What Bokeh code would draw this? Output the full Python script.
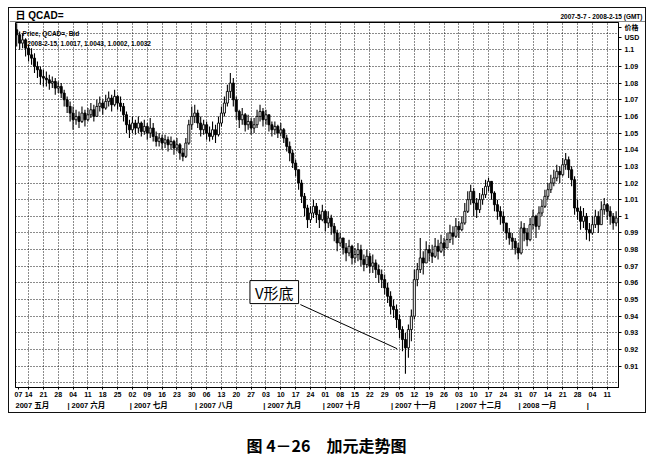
from bokeh.plotting import figure
from bokeh.models import Range1d, FixedTicker, Label, Div, ColumnDataSource, LinearAxis, Spacer
from bokeh.core.properties import value
from bokeh.layouts import column, row
from bokeh.embed import file_html
from bokeh.resources import INLINE

# ---------------- data (daily USD/CAD bars) ----------------
first_open = 1.114
close = [
    1.112,
    1.109, 1.104, 1.106, 1.101, 1.097,
    1.095, 1.090, 1.088, 1.084, 1.083,
    1.082, 1.080, 1.081, 1.077, 1.078,
    1.074, 1.070, 1.066, 1.062, 1.058,
    1.060, 1.057, 1.062, 1.058, 1.061,
    1.064, 1.060, 1.066, 1.068, 1.065,
    1.069, 1.071, 1.067, 1.072, 1.068,
    1.066, 1.061, 1.055, 1.052, 1.056,
    1.053, 1.056, 1.051, 1.054, 1.050,
    1.053, 1.048, 1.045, 1.047, 1.044,
    1.046, 1.043, 1.045, 1.041, 1.043,
    1.038, 1.036, 1.044, 1.055, 1.060,
    1.062, 1.056, 1.052, 1.055, 1.050,
    1.048, 1.052, 1.049, 1.056, 1.062,
    1.068, 1.075, 1.080, 1.070, 1.063,
    1.058, 1.061, 1.055, 1.057, 1.053,
    1.055, 1.060, 1.063, 1.058, 1.061,
    1.055, 1.052, 1.054, 1.050, 1.052,
    1.047, 1.042, 1.038, 1.032, 1.028,
    1.020, 1.012, 1.005, 0.998, 1.002,
    1.006, 1.001, 0.998, 1.003, 0.996,
    0.999, 0.994, 0.990, 0.984, 0.987,
    0.981, 0.978, 0.982, 0.975, 0.977,
    0.980, 0.974, 0.971, 0.976, 0.970,
    0.972, 0.968, 0.965, 0.962, 0.957,
    0.952, 0.946, 0.944, 0.938, 0.932,
    0.926, 0.921, 0.932, 0.940, 0.962,
    0.968, 0.975, 0.972, 0.980, 0.978,
    0.976, 0.982, 0.979, 0.984, 0.981,
    0.986, 0.990, 0.988, 0.994, 0.992,
    0.996, 1.003, 1.010, 1.015, 1.008,
    1.004, 1.010, 1.013, 1.018, 1.021,
    1.014, 1.007, 1.003, 1.000, 0.996,
    0.990, 0.987, 0.985, 0.981, 0.978,
    0.993, 0.990, 0.986, 0.995, 1.000,
    0.994, 1.002, 1.006, 1.012, 1.016,
    1.020, 1.023, 1.027, 1.025, 1.031,
    1.034, 1.028, 1.022, 1.005, 1.003,
    0.997, 1.000, 0.992, 0.990, 0.995,
    1.000, 0.995, 1.004, 1.007, 1.003,
    1.000, 0.996, 0.999,
]
high = [
    1.116,
    1.116, 1.111, 1.110, 1.107, 1.103,
    1.101, 1.098, 1.093, 1.090, 1.088,
    1.087, 1.085, 1.084, 1.083, 1.081,
    1.080, 1.076, 1.072, 1.069, 1.066,
    1.064, 1.063, 1.066, 1.064, 1.065,
    1.068, 1.067, 1.070, 1.072, 1.070,
    1.073, 1.075, 1.073, 1.076, 1.073,
    1.072, 1.068, 1.063, 1.058, 1.060,
    1.058, 1.060, 1.057, 1.058, 1.056,
    1.059, 1.056, 1.051, 1.050, 1.049,
    1.049, 1.048, 1.048, 1.046, 1.047,
    1.044, 1.041, 1.047, 1.058, 1.066,
    1.067, 1.064, 1.060, 1.058, 1.057,
    1.054, 1.057, 1.055, 1.060, 1.066,
    1.072, 1.079, 1.086, 1.083, 1.072,
    1.064, 1.065, 1.062, 1.061, 1.059,
    1.059, 1.064, 1.067, 1.065, 1.064,
    1.059, 1.057, 1.057, 1.055, 1.056,
    1.053, 1.049, 1.045, 1.040, 1.034,
    1.028, 1.022, 1.014, 1.007, 1.006,
    1.010, 1.008, 1.004, 1.007, 1.004,
    1.003, 1.001, 0.996, 0.992, 0.990,
    0.987, 0.984, 0.986, 0.983, 0.981,
    0.984, 0.983, 0.977, 0.980, 0.978,
    0.977, 0.974, 0.971, 0.968, 0.965,
    0.960, 0.955, 0.950, 0.947, 0.941,
    0.934, 0.930, 0.935, 0.944, 0.968,
    0.972, 0.987, 0.979, 0.985, 0.983,
    0.983, 0.987, 0.986, 0.989, 0.987,
    0.990, 0.995, 0.994, 0.999, 0.997,
    1.000, 1.008, 1.015, 1.019, 1.017,
    1.011, 1.014, 1.017, 1.022, 1.023,
    1.020, 1.015, 1.010, 1.006, 1.003,
    0.995, 0.993, 0.990, 0.987, 0.984,
    0.997, 0.996, 0.993, 0.999, 1.004,
    1.001, 1.006, 1.010, 1.016, 1.020,
    1.025, 1.028, 1.031, 1.030, 1.035,
    1.038, 1.036, 1.030, 1.024, 1.010,
    1.006, 1.005, 1.002, 0.996, 1.000,
    1.004, 1.003, 1.009, 1.011, 1.008,
    1.006, 1.002, 1.003,
]
low = [
    1.107,
    1.102, 1.100, 1.101, 1.096, 1.093,
    1.091, 1.086, 1.083, 1.079, 1.078,
    1.078, 1.076, 1.077, 1.073, 1.074,
    1.071, 1.066, 1.062, 1.057, 1.052,
    1.055, 1.053, 1.056, 1.054, 1.057,
    1.059, 1.057, 1.060, 1.063, 1.061,
    1.064, 1.066, 1.063, 1.066, 1.064,
    1.063, 1.057, 1.050, 1.047, 1.050,
    1.049, 1.050, 1.048, 1.049, 1.046,
    1.047, 1.045, 1.042, 1.042, 1.040,
    1.041, 1.039, 1.040, 1.037, 1.039,
    1.034, 1.033, 1.035, 1.043, 1.052,
    1.056, 1.053, 1.048, 1.049, 1.046,
    1.045, 1.046, 1.044, 1.048, 1.054,
    1.060, 1.066, 1.071, 1.066, 1.058,
    1.053, 1.055, 1.051, 1.052, 1.049,
    1.050, 1.053, 1.057, 1.054, 1.055,
    1.051, 1.048, 1.049, 1.047, 1.048,
    1.044, 1.039, 1.033, 1.029, 1.024,
    1.016, 1.008, 1.000, 0.993, 0.996,
    0.999, 0.996, 0.993, 0.997, 0.991,
    0.993, 0.989, 0.985, 0.979, 0.982,
    0.977, 0.973, 0.976, 0.971, 0.972,
    0.973, 0.970, 0.967, 0.969, 0.966,
    0.966, 0.963, 0.960, 0.957, 0.953,
    0.948, 0.941, 0.939, 0.933, 0.927,
    0.919, 0.9055, 0.915, 0.925, 0.938,
    0.958, 0.966, 0.965, 0.972, 0.973,
    0.972, 0.975, 0.974, 0.978, 0.976,
    0.981, 0.984, 0.983, 0.987, 0.987,
    0.991, 0.995, 1.002, 1.007, 1.000,
    0.999, 1.002, 1.007, 1.011, 1.015,
    1.010, 1.003, 0.998, 0.995, 0.991,
    0.986, 0.983, 0.980, 0.977, 0.974,
    0.977, 0.985, 0.982, 0.985, 0.992,
    0.987, 0.992, 1.000, 1.005, 1.010,
    1.014, 1.018, 1.021, 1.020, 1.024,
    1.028, 1.023, 1.018, 1.001, 0.998,
    0.992, 0.993, 0.986, 0.985, 0.989,
    0.993, 0.990, 0.996, 1.001, 0.998,
    0.995, 0.992, 0.994,
]

# weekly (Monday) tick labels; trading-day index of week k = 5 * k
first_week_label = "07"
week_labels = ["14", "21", "28", "04", "11", "18", "25", "02", "09", "16", "23", "30",
               "06", "13", "20", "27", "03", "10", "17", "24", "01", "08", "15", "22", "29",
               "05", "12", "19", "26", "03", "10", "17", "24", "31", "07", "14", "21", "28",
               "04", "11"]
month_labels = ["2007 五月", "| 2007 六月", "| 2007 七月", "| 2007 八月", "| 2007 九月",
                "| 2007 十月", "| 2007 十一月", "| 2007 十二月", "| 2008 一月", "|"]
month_start_idx = [0, 19, 40, 62, 85, 105, 128, 150, 171, 194]
price_ticks = [round(0.91 + 0.01 * k, 2) for k in range(20)]
grid_ticks = [round(0.90 + 0.01 * k, 2) for k in range(22)]
unit_labels = ["价格", "USD"]

title_text = "日 QCAD="
range_text = "2007-5-7 - 2008-2-15 (GMT)"
legend_line1 = "Price, QCAD=, Bid"
legend_line2 = "2008-2-15, 1.0017, 1.0043, 1.0002, 1.0032"
annotation_text = "V形底"
caption_text = "图 4－26　加元走势图"

# ---------------- build ----------------
n = len(close)
idx = list(range(n))
opn = [first_open] + close[:-1]
hi = [max(h, o, c) for h, o, c in zip(high, opn, close)]
lo = [min(l, o, c) for l, o, c in zip(low, opn, close)]
top = [max(o, c) for o, c in zip(opn, close)]
bot = [min(o, c) for o, c in zip(opn, close)]
fill = ["white" if c > o else "black" for o, c in zip(opn, close)]
src = ColumnDataSource(dict(x=idx, high=hi, low=lo, top=top, bottom=bot, fill=fill))

LBL_FONT = "Liberation Sans"
CJK_FONT = "Noto Sans CJK SC"
MIX_FONT = "Liberation Sans, Noto Sans CJK SC"

W = 636            # inner width of the outer box
HEAD_H = 14
FRAME_W, FRAME_H = 603, 365
B_LEFT, B_BOTTOM = 6, 25
B_RIGHT = W - B_LEFT - FRAME_W
MAIN_H = FRAME_H + B_BOTTOM

X0, X1 = 0.6, 203.8
Y0, Y1 = 0.8972, 1.1164
PX = (Y1 - Y0) / FRAME_H          # price per pixel
DX = (X1 - X0) / FRAME_W          # index per pixel


def bare(width, height):
    f = figure(width=width, height=height, x_range=Range1d(0, width), y_range=Range1d(0, height),
               output_backend="svg", toolbar_location=None, title=None,
               x_axis_location=None, y_axis_location=None, min_border=0)
    f.outline_line_color = None
    f.xgrid.visible = False
    f.ygrid.visible = False
    f.background_fill_color = "white"
    f.border_fill_color = "white"
    return f


# ---- header strip (title + date range) ----
head = bare(W, HEAD_H)
head.text(x=[B_LEFT], y=[7.5], text=[title_text], text_align="left", text_baseline="middle",
          text_font=value(MIX_FONT), text_font_size="10px", text_font_style="bold",
          text_color="black")
head.text(x=[W - 3], y=[6.5], text=[range_text], text_align="right", text_baseline="middle",
          text_font=value(LBL_FONT), text_font_size="6.5px", text_font_style="bold",
          text_color="black")
head.segment(x0=[0], y0=[0.5], x1=[W], y1=[0.5], line_color="#111", line_width=1)

# ---- main chart ----
p = figure(width=W, height=MAIN_H, x_range=Range1d(X0, X1), y_range=Range1d(Y0, Y1),
           output_backend="svg", toolbar_location=None, title=None, y_axis_location="right",
           min_border_left=B_LEFT, min_border_right=B_RIGHT, min_border_top=0,
           min_border_bottom=B_BOTTOM)
p.background_fill_color = "white"
p.border_fill_color = "white"
p.outline_line_color = "black"
p.outline_line_width = 1

p.xgrid.ticker = FixedTicker(ticks=[5 * k for k in range(1, len(week_labels) + 1)])
p.ygrid.ticker = FixedTicker(ticks=grid_ticks)
for g in (p.xgrid, p.ygrid):
    g.grid_line_color = "black"
    g.grid_line_dash = "1 2"
    g.grid_line_alpha = 0.9
    g.grid_line_width = 1

xt = [X0 + 1.0] + [5 * k for k in range(1, len(week_labels) + 1)]
xa = p.xaxis[0]
xa.ticker = FixedTicker(ticks=xt, minor_ticks=[])
xa.major_label_overrides = {t: s for t, s in zip(xt, [first_week_label] + week_labels)}
xa.major_tick_out = 2
xa.major_tick_in = 0
xa.major_label_standoff = 2
xa.major_label_text_font = LBL_FONT
xa.major_label_text_font_size = "7px"
xa.major_label_text_font_style = "bold"
xa.major_label_text_color = "black"
xa.axis_line_color = "black"


def text_w(s, fs):
    w = 0.0
    for ch in s:
        if ord(ch) > 0x2E80:
            w += fs
        elif ch.isdigit():
            w += 0.556 * fs
        elif ch == "|":
            w += 0.28 * fs
        else:
            w += 0.278 * fs
    return w


MFS = 7.5
m_centres = []
for i, (m, t) in enumerate(zip(month_start_idx, month_labels)):
    left = X0 if i == 0 else m - 0.9
    m_centres.append(round(left + text_w(t, MFS) / 2 * DX, 3))
ma = LinearAxis(ticker=FixedTicker(ticks=m_centres, minor_ticks=[]),
                major_label_overrides={c: t for c, t in zip(m_centres, month_labels)})
ma.axis_line_color = None
ma.major_tick_line_color = None
ma.major_tick_out = 0
ma.major_tick_in = 0
ma.major_label_standoff = 1
ma.major_label_text_font = MIX_FONT
ma.major_label_text_font_size = f"{MFS}px"
ma.major_label_text_font_style = "bold"
ma.major_label_text_color = "black"
p.add_layout(ma, "below")

unit_pos = [round(Y1 - 5 * PX, 4), round(Y1 - 15.5 * PX, 4)]
ya = p.yaxis[0]
ya.ticker = FixedTicker(ticks=price_ticks + unit_pos, minor_ticks=[])
ov = {v: f"{v:g}" for v in price_ticks}
ov.update({u: s for u, s in zip(unit_pos, unit_labels)})
ya.major_label_overrides = ov
ya.major_tick_out = 3
ya.major_tick_in = 0
ya.major_label_standoff = 3
ya.major_label_text_font = MIX_FONT
ya.major_label_text_font_size = "7px"
ya.major_label_text_font_style = "bold"
ya.major_label_text_color = "black"
ya.axis_line_color = "black"

# candles
p.segment(x0="x", y0="high", x1="x", y1="low", source=src, line_color="black", line_width=1.1)
p.vbar(x="x", width=0.7, top="top", bottom="bottom", source=src,
       fill_color="fill", line_color="black", line_width=0.9)

# V-bottom annotation
low_i = lo.index(min(lo))
ann_line_x = [96.6, low_i - 2.8]
ann_line_y = [0.947, lo[low_i] + 0.015]
p.line(ann_line_x, ann_line_y, line_color="black", line_width=1)
p.add_layout(Label(x=87.8, y=0.9545, text=annotation_text, text_align="center",
                   text_baseline="middle", text_font=CJK_FONT, text_font_size="15px",
                   text_color="black", border_line_color="black", border_line_width=1,
                   background_fill_color="white",
                   padding=dict(left=5, right=5, top=1, bottom=1)))

p.add_layout(Label(x=X0 + 2.4, y=Y1 - 11 * PX, text=legend_line1, text_align="left",
                   text_baseline="middle", text_font=LBL_FONT, text_font_size="6.5px",
                   text_font_style="bold", text_color="black"))
p.add_layout(Label(x=X0 + 4.0, y=Y1 - 21 * PX, text=legend_line2, text_align="left",
                   text_baseline="middle", text_font=LBL_FONT, text_font_size="6.5px",
                   text_font_style="bold", text_color="black"))

# ---- caption ----
CAP_W, CAP_H = 653, 47
cap = bare(CAP_W, CAP_H)
cap.text(x=[326], y=[16], text=[caption_text], text_align="center", text_baseline="middle",
         text_font=value(CJK_FONT), text_font_size="16px", text_font_style="bold",
         text_color="black")


def bar(w, h):
    return Div(text="", width=w, height=h, margin=0,
               styles={"background-color": "#111", "padding": "0", "margin": "0"})


box = column(
    bar(W + 2, 1),
    row(bar(1, HEAD_H), head, bar(1, HEAD_H), spacing=0),
    row(bar(1, MAIN_H), p, bar(1, MAIN_H), spacing=0),
    bar(W + 2, 1),
    spacing=0,
)
root = column(Spacer(width=10, height=7, margin=0),
              row(Spacer(width=8, height=10, margin=0), box, spacing=0),
              cap, spacing=0)
open("out.html", "w").write(file_html(root, INLINE))
